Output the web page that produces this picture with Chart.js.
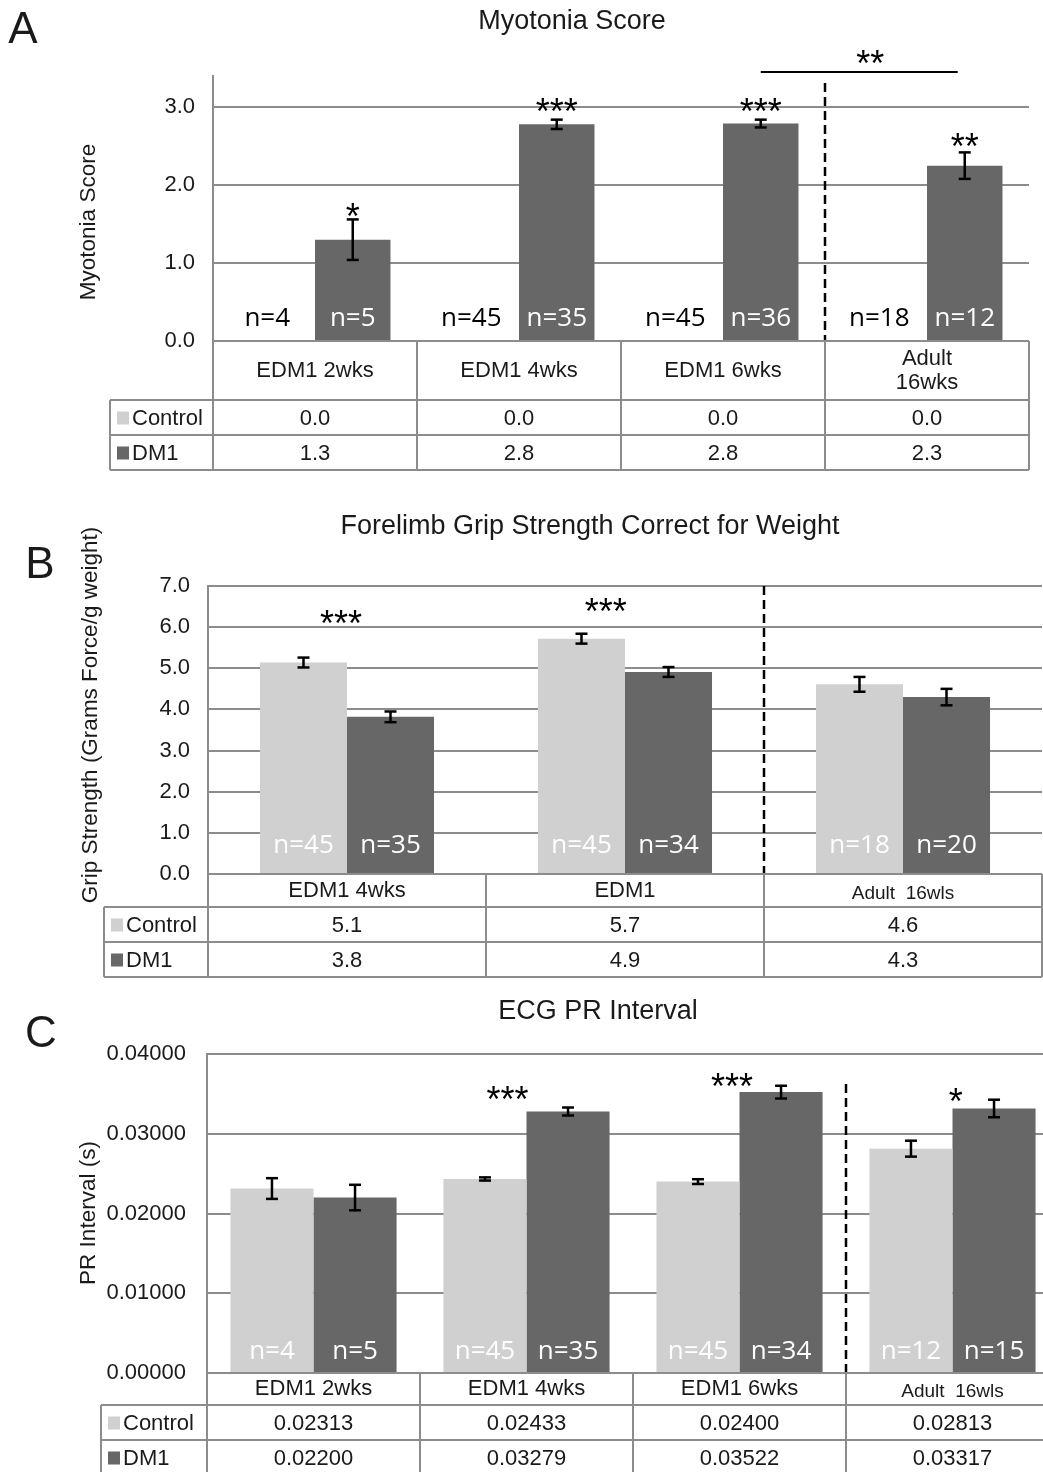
<!DOCTYPE html>
<html>
<head>
<meta charset="utf-8">
<script src="https://cdn.jsdelivr.net/npm/chart.js@4.4.0/dist/chart.umd.min.js"></script>
<style>
  html, body { margin: 0; padding: 0; background: #fff; }
  #wrap { position: relative; width: 1043px; height: 1472px; overflow: hidden; background: #fff;
          font-family: "Liberation Sans", Arial, sans-serif; color: #1a1a1a; }
  #wrap canvas { position: absolute; left: 0; }
  .lbl { position: absolute; transform: translate(-50%, -50%); white-space: nowrap; }
  .title { font-size: 27px; }
  .letter { font-size: 44px; }
  .ytitle { font-size: 22.5px; transform: translate(-50%, -50%) rotate(-90deg); }
</style>
</head>
<body>
<div id="wrap">
  <canvas id="chartA" width="1043" height="485" style="top:0px"></canvas>
  <canvas id="chartB" width="1043" height="495" style="top:490px"></canvas>
  <canvas id="chartC" width="1070" height="487" style="top:985px"></canvas>

  <div class="lbl letter" style="left:23px;top:28px">A</div>
  <div class="lbl title" style="left:572px;top:20px">Myotonia Score</div>
  <div class="lbl ytitle" style="left:88px;top:222px">Myotonia Score</div>

  <div class="lbl letter" style="left:40px;top:563px">B</div>
  <div class="lbl title" style="left:590px;top:525px">Forelimb Grip Strength Correct for Weight</div>
  <div class="lbl ytitle" style="left:90px;top:715px">Grip Strength (Grams Force/g weight)</div>

  <div class="lbl letter" style="left:41px;top:1032px">C</div>
  <div class="lbl title" style="left:598px;top:1010px">ECG PR Interval</div>
  <div class="lbl ytitle" style="left:88px;top:1213px">PR Interval (s)</div>
</div>
<script>
// ---- Panel A: myotonia score
const myoCategories = ['EDM1 2wks', 'EDM1 4wks', 'EDM1 6wks', ['Adult', '16wks']];
const myoControl = [0, 0, 0, 0];
const myoDM1 = [1.3, 2.78, 2.79, 2.25];
const myoControlErr = [0, 0, 0, 0];
const myoDM1Err = [0.26, 0.06, 0.05, 0.17];
const myoControlN = ['n=4', 'n=45', 'n=45', 'n=18'];
const myoDM1N = ['n=5', 'n=35', 'n=36', 'n=12'];
const myoTicks = [0, 1, 2, 3];

// ---- Panel B: grip strength
const gripCategories = ['EDM1 4wks', 'EDM1', 'Adult  16wls'];
const gripControl = [5.14, 5.72, 4.61];
const gripDM1 = [3.82, 4.91, 4.30];
const gripControlErr = [0.12, 0.12, 0.18];
const gripDM1Err = [0.13, 0.12, 0.2];
const gripControlN = ['n=45', 'n=45', 'n=18'];
const gripDM1N = ['n=35', 'n=34', 'n=20'];
const gripTicks = [0, 1, 2, 3, 4, 5, 6, 7];

// ---- Panel C: ECG PR interval
const prCategories = ['EDM1 2wks', 'EDM1 4wks', 'EDM1 6wks', 'Adult  16wls'];
const prControl = [0.02313, 0.02433, 0.02400, 0.02813];
const prDM1 = [0.02200, 0.03279, 0.03522, 0.03317];
const prControlErr = [0.0013, 0.0002, 0.0003, 0.0010];
const prDM1Err = [0.0016, 0.0005, 0.0008, 0.0011];
const prControlN = ['n=4', 'n=45', 'n=45', 'n=12'];
const prDM1N = ['n=5', 'n=35', 'n=34', 'n=15'];
const prTicks = [0, 0.01, 0.02, 0.03, 0.04];

const seriesNames = ['Control', 'DM1'];
const seriesColors = ['#d0d0d0', '#676767'];
const gridColor = '#8c8c8c';
const textColor = '#1a1a1a';
const FONT = '"Liberation Sans", Arial, sans-serif';

// significance marks: cat = group, off = shift in bar widths from group centre, v = value height
const myoStars = [
    { cat: 0, off: 0.5, v: 1.71, text: '*' },
    { cat: 1, off: 0.5, v: 3.05, text: '***' },
    { cat: 2, off: 0.5, v: 3.05, text: '***' },
    { cat: 3, off: 0.5, v: 2.6, text: '**' },
    { cat: 2.5, off: 0.6, v: 3.67, text: '**' }
];
const gripStars = [
    { cat: 0, off: -0.07, v: 6.3, text: '***' },
    { cat: 1, off: -0.22, v: 6.59, text: '***' }
];
const prStars = [
    { cat: 1, off: -0.23, v: 0.03538, text: '***' },
    { cat: 2, off: -0.09, v: 0.0370, text: '***' },
    { cat: 3, off: 0.04, v: 0.0351, text: '*' }
];

function line(ctx, x1, y1, x2, y2) {
    ctx.beginPath();
    ctx.moveTo(x1, y1);
    ctx.lineTo(x2, y2);
    ctx.stroke();
}

function drawStars(ctx, text, cx, cy) {
    ctx.font = '36px ' + FONT;
    ctx.textAlign = 'center';
    ctx.textBaseline = 'alphabetic';
    ctx.fillStyle = '#000';
    const step = 14;
    for (let k = 0; k < text.length; k++) {
        const x = cx + (k - (text.length - 1) / 2) * step;
        ctx.fillText('*', x, cy + 21);
    }
}

// extras drawn on top of the bars: divider, error bars, n labels, stars, data table
function extrasPlugin(p) {
    return {
        id: 'extras',
        afterDatasetsDraw(chart) {
            const ctx = chart.ctx;
            const area = chart.chartArea;
            const ys = chart.scales.y;
            const nCat = chart.data.labels.length;
            const colW = (area.right - area.left) / nCat;
            const metas = [chart.getDatasetMeta(0), chart.getDatasetMeta(1)];
            const barW = metas[0].data[0].width;
            ctx.save();

            // dashed divider before last group
            const xDiv = area.left + (nCat - 1) * colW;
            ctx.strokeStyle = '#000';
            ctx.lineWidth = 2.5;
            ctx.setLineDash([9, 5]);
            line(ctx, xDiv, ys.getPixelForValue(p.dashTop), xDiv, area.bottom);
            ctx.setLineDash([]);

            // error bars
            ctx.lineWidth = 2.5;
            metas.forEach((meta, s) => {
                meta.data.forEach((bar, i) => {
                    const v = p.values[s][i], e = p.errors[s][i];
                    if (!e) return;
                    const yt = ys.getPixelForValue(v + e), yb = ys.getPixelForValue(v - e);
                    line(ctx, bar.x, yt, bar.x, yb);
                    line(ctx, bar.x - 6, yt, bar.x + 6, yt);
                    line(ctx, bar.x - 6, yb, bar.x + 6, yb);
                });
            });

            // n labels inside bars
            ctx.font = '26px "Open Sans", "Noto Sans", sans-serif';
            ctx.textAlign = 'center';
            ctx.textBaseline = 'middle';
            metas.forEach((meta, s) => {
                meta.data.forEach((bar, i) => {
                    ctx.fillStyle = p.values[s][i] > 0 ? '#ffffff' : '#000000';
                    const dx = p.values[s][i] > 0 ? 0 : -10;
                    ctx.fillText(p.nLabels[s][i], bar.x + dx, area.bottom - p.nOffset);
                });
            });

            // significance stars
            p.stars.forEach(st => {
                const cx = area.left + (st.cat + 0.5) * colW + st.off * barW;
                drawStars(ctx, st.text, cx, ys.getPixelForValue(st.v));
            });
            if (p.bracket) {
                const b = p.bracket;
                const x1 = metas[1].data[b.from].x, x2 = metas[1].data[b.to].x - 7;
                ctx.strokeStyle = '#000';
                ctx.lineWidth = 2;
                const yb = ys.getPixelForValue(b.v);
                line(ctx, x1, yb, x2, yb);
            }

            // data table under the axis
            const top = area.bottom;
            const hh = p.headerH, rh = p.rowH;
            const bottom = top + hh + 2 * rh;
            ctx.strokeStyle = gridColor;
            ctx.lineWidth = 2;
            line(ctx, area.left, top, area.right, top);
            line(ctx, p.legendLeft, top + hh, area.right, top + hh);
            line(ctx, p.legendLeft, top + hh + rh, area.right, top + hh + rh);
            line(ctx, p.legendLeft, bottom, area.right, bottom);
            for (let i = 0; i <= nCat; i++) {
                const x = area.left + i * colW;
                line(ctx, x, top, x, bottom);
            }
            line(ctx, p.legendLeft, top + hh, p.legendLeft, bottom);

            ctx.fillStyle = textColor;
            ctx.textAlign = 'center';
            ctx.textBaseline = 'middle';
            chart.data.labels.forEach((lab, i) => {
                const cx = area.left + (i + 0.5) * colW;
                const small = p.smallHeader && p.smallHeader[i];
                ctx.font = (small ? '19px ' : '22px ') + FONT;
                const lines = Array.isArray(lab) ? lab : [lab];
                lines.forEach((t, k) => {
                    const yy = top + hh / 2 + (k - (lines.length - 1) / 2) * 24 + (small ? 3 : 0);
                    ctx.fillText(t, cx, yy);
                });
            });
            ctx.font = '22px ' + FONT;
            for (let s = 0; s < 2; s++) {
                const cy = top + hh + rh * s + rh / 2;
                ctx.fillStyle = seriesColors[s];
                ctx.fillRect(p.legendLeft + 7, cy - 6, 12, 13);
                ctx.fillStyle = textColor;
                ctx.textAlign = 'left';
                ctx.fillText(seriesNames[s], p.legendLeft + 22, cy + 1);
                ctx.textAlign = 'center';
                p.values[s].forEach((v, i) => {
                    ctx.fillText(v.toFixed(p.decimals), area.left + (i + 0.5) * colW, cy + 1);
                });
            }
            ctx.restore();
        }
    };
}

function makePanel(id, p) {
    const ctx = document.getElementById(id).getContext('2d');
    return new Chart(ctx, {
        type: 'bar',
        data: {
            labels: p.categories,
            datasets: [0, 1].map(s => ({
                label: seriesNames[s],
                data: p.values[s],
                backgroundColor: seriesColors[s],
                borderWidth: 0,
                categoryPercentage: p.catPct,
                barPercentage: 1
            }))
        },
        options: {
            responsive: false,
            animation: false,
            layout: { padding: p.padding },
            plugins: { legend: { display: false }, tooltip: { enabled: false } },
            scales: {
                x: { display: false },
                y: {
                    min: 0,
                    max: p.max,
                    afterFit: scale => { scale.width = p.leftW; },
                    afterBuildTicks: scale => {
                        scale.ticks = p.ticks.map(v => ({ value: v }));
                    },
                    ticks: {
                        padding: p.tickPad,
                        color: textColor,
                        font: { family: FONT, size: 22 },
                        callback: v => Number(v).toFixed(p.decimals)
                    },
                    grid: { color: gridColor, lineWidth: 2, drawTicks: false },
                    border: { color: gridColor, width: 2 }
                }
            }
        },
        plugins: [extrasPlugin(p)]
    });
}

makePanel('chartA', {
    categories: myoCategories,
    values: [myoControl, myoDM1],
    errors: [myoControlErr, myoDM1Err],
    nLabels: [myoControlN, myoDM1N],
    ticks: myoTicks,
    stars: myoStars,
    bracket: { from: 2, to: 3, v: 3.45 },
    max: 3.4, decimals: 1, dashTop: 3.31,
    catPct: 0.74, leftW: 213, tickPad: 18,
    padding: { left: 0, top: 76, right: 14, bottom: 144 },
    nOffset: 22, headerH: 59, rowH: 35, legendLeft: 110
});

makePanel('chartB', {
    categories: gripCategories,
    values: [gripControl, gripDM1],
    errors: [gripControlErr, gripDM1Err],
    nLabels: [gripControlN, gripDM1N],
    ticks: gripTicks,
    stars: gripStars,
    max: 7, decimals: 1, dashTop: 7,
    catPct: 0.626, leftW: 208, tickPad: 18,
    padding: { left: 0, top: 96, right: 1, bottom: 111 },
    nOffset: 28, headerH: 33, rowH: 35, legendLeft: 104,
    smallHeader: [false, false, true]
});

makePanel('chartC', {
    categories: prCategories,
    values: [prControl, prDM1],
    errors: [prControlErr, prDM1Err],
    nLabels: [prControlN, prDM1N],
    ticks: prTicks,
    stars: prStars,
    max: 0.04, decimals: 5, dashTop: 0.03625,
    catPct: 0.78, leftW: 207, tickPad: 21,
    padding: { left: 0, top: 69, right: 11, bottom: 99 },
    nOffset: 21, headerH: 32, rowH: 35, legendLeft: 101,
    smallHeader: [false, false, false, true]
});
</script>
</body>
</html>
